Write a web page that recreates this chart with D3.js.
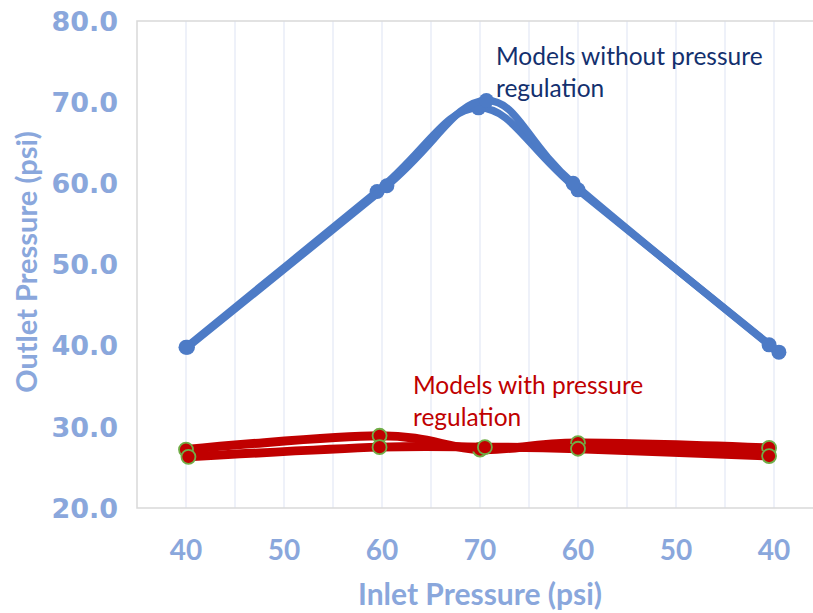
<!DOCTYPE html>
<html>
<head>
<meta charset="utf-8">
<script src="https://cdn.jsdelivr.net/npm/d3@7"></script>
<style>
  body { margin: 0; background: #fff; }
  svg { display: block; }
</style>
</head>
<body>
<div id="chart"></div>
<script>
// x positions are slots on the category axis, labels map to inlet pressure
const xTickPos = [1, 3, 5, 7, 9, 11, 13];
const xTickLabels = ['40', '50', '60', '70', '60', '50', '40'];
const xGrid = [1, 2, 3, 4, 5, 6, 7, 8, 9, 10, 11, 12, 13];
const yTicks = [20, 30, 40, 50, 60, 70, 80];

// models without pressure regulation
const noRegA = [[1.0, 39.8], [4.9, 59.0], [6.97, 69.3], [9.0, 59.2], [13.1, 39.2]];
const noRegB = [[1.03, 39.8], [5.1, 59.7], [7.13, 70.2], [8.9, 60.0], [12.9, 40.1]];

// models with pressure regulation
const regA = [[1.0, 27.2], [4.95, 28.9], [7.0, 27.2], [9.0, 28.0], [12.9, 27.4]];
const regB = [[1.05, 26.3], [4.95, 27.5], [7.1, 27.5], [9.0, 27.3], [12.9, 26.4]];

const width = 813;
const height = 613;
const plot = { left: 137, top: 21, right: 823, bottom: 508 };

const svg = d3
  .select('#chart')
  .append('svg')
  .attr('width', width)
  .attr('height', height);

const x = d3.scaleLinear().domain([0, 14]).range([plot.left, plot.right]);
const y = d3.scaleLinear().domain([20, 80]).range([plot.bottom, plot.top]);

const tickColor = '#8aa7dc';

// vertical gridlines
svg
  .append('g')
  .selectAll('line')
  .data(xGrid)
  .enter()
  .append('line')
  .attr('x1', d => x(d))
  .attr('x2', d => x(d))
  .attr('y1', plot.top)
  .attr('y2', plot.bottom)
  .attr('stroke', '#e8edf7')
  .attr('stroke-width', 1.5);

// plot area border
svg
  .append('rect')
  .attr('x', plot.left)
  .attr('y', plot.top)
  .attr('width', plot.right - plot.left)
  .attr('height', plot.bottom - plot.top)
  .attr('fill', 'none')
  .attr('stroke', '#d9d9d9')
  .attr('stroke-width', 1.5);

// y tick labels
svg
  .append('g')
  .selectAll('text')
  .data(yTicks)
  .enter()
  .append('text')
  .attr('x', 118)
  .attr('y', d => y(d))
  .attr('dy', '0.36em')
  .attr('text-anchor', 'end')
  .attr('font-family', 'DejaVu Sans')
  .attr('font-weight', 'bold')
  .attr('font-size', 27)
  .attr('fill', tickColor)
  .text(d => d.toFixed(1));

// x tick labels
svg
  .append('g')
  .selectAll('text')
  .data(xTickPos)
  .enter()
  .append('text')
  .attr('x', d => x(d))
  .attr('y', 560)
  .attr('text-anchor', 'middle')
  .attr('font-family', 'Lato')
  .attr('font-weight', 'bold')
  .attr('font-size', 28)
  .attr('fill', tickColor)
  .text((d, i) => xTickLabels[i]);

// axis titles
svg
  .append('text')
  .attr('x', (plot.left + plot.right) / 2)
  .attr('y', 605)
  .attr('text-anchor', 'middle')
  .attr('font-family', 'Lato')
  .attr('font-weight', 'bold')
  .attr('font-size', 30)
  .attr('fill', tickColor)
  .text('Inlet Pressure (psi)');

svg
  .append('text')
  .attr('transform', 'translate(37,262) rotate(-90)')
  .attr('text-anchor', 'middle')
  .attr('font-family', 'Lato')
  .attr('font-weight', 'bold')
  .attr('font-size', 29)
  .attr('fill', tickColor)
  .text('Outlet Pressure (psi)');

const line = d3
  .line()
  .x(d => x(d[0]))
  .y(d => y(d[1]))
  .curve(d3.curveCardinal.tension(0));

function drawSeries(data, color, lineWidth, markerR, markerStroke) {
  svg
    .append('path')
    .datum(data)
    .attr('fill', 'none')
    .attr('stroke', color)
    .attr('stroke-width', lineWidth)
    .attr('stroke-linejoin', 'round')
    .attr('d', line);

  svg
    .append('g')
    .selectAll('circle')
    .data(data)
    .enter()
    .append('circle')
    .attr('cx', d => x(d[0]))
    .attr('cy', d => y(d[1]))
    .attr('r', markerR)
    .attr('fill', color)
    .attr('stroke', markerStroke || 'none')
    .attr('stroke-width', 1.8);
}

drawSeries(noRegA, '#4d7bc6', 7.5, 7.5);
drawSeries(noRegB, '#4d7bc6', 7.5, 7.5);
drawSeries(regA, '#c00000', 9, 7, '#70ad47');
drawSeries(regB, '#c00000', 9, 7, '#70ad47');

// annotations
const notes = [
  { lines: ['Models without pressure', 'regulation'], x: 496, y: 65, color: '#13306e' },
  { lines: ['Models with pressure', 'regulation'], x: 413, y: 394, color: '#c00000' },
];

notes.forEach(n => {
  const t = svg
    .append('text')
    .attr('x', n.x)
    .attr('y', n.y)
    .attr('font-family', 'Lato')
    .attr('font-size', 24.5)
    .attr('fill', n.color);
  n.lines.forEach((s, i) => {
    t.append('tspan')
      .attr('x', n.x)
      .attr('dy', i === 0 ? 0 : 32)
      .text(s);
  });
});
</script>
</body>
</html>
